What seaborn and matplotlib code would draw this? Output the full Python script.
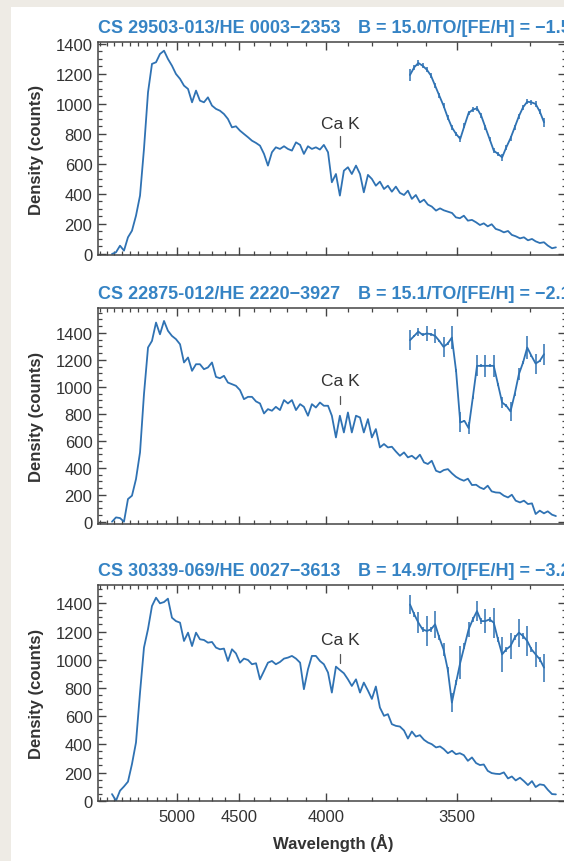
import numpy as np
import pandas as pd
import matplotlib
matplotlib.use("Agg")
import matplotlib.pyplot as plt
from matplotlib.ticker import FixedLocator, MultipleLocator, StrMethodFormatter, NullFormatter
from matplotlib.patches import Rectangle
from matplotlib.transforms import offset_copy
import seaborn as sns

# ---------------------------------------------------------------- data ----
# Objective-prism sampling grid (Angstrom), shared by the three spectra
wavelength = [
    5733, 5679, 5626, 5575, 5525, 5476, 5428, 5381, 5336, 5291,
    5248, 5205, 5164, 5123, 5084, 5045, 5007, 4969, 4933, 4897,
    4862, 4828, 4795, 4762, 4730, 4698, 4667, 4637, 4607, 4578,
    4549, 4521, 4493, 4466, 4439, 4413, 4387, 4362, 4337, 4313,
    4289, 4266, 4242, 4219, 4197, 4175, 4153, 4131, 4111, 4090,
    4070, 4050, 4030, 4011, 3991, 3973, 3954, 3936, 3918, 3900,
    3883, 3865, 3848, 3832, 3815, 3799, 3783, 3767, 3751, 3736,
    3721, 3706, 3691, 3676, 3662, 3648, 3634, 3620, 3606, 3593,
    3580, 3566, 3553, 3541, 3528, 3515, 3503, 3491, 3479, 3467,
    3455, 3443, 3432, 3421, 3410, 3399, 3388, 3377, 3366, 3355,
    3345, 3335, 3324, 3314, 3304, 3294, 3285, 3275, 3265, 3256,
    3246, 3237,
]

density_cs29503 = [
    0, 11, 55, 22, 111, 155, 255, 389, 700, 1078,
    1267, 1278, 1333, 1355, 1300, 1255, 1200, 1167, 1122, 1100,
    1011, 1089, 1022, 1011, 1044, 989, 967, 955, 933, 900,
    844, 851, 822, 800, 778, 755, 740, 722, 667, 589,
    678, 711, 700, 718, 700, 689, 744, 727, 667, 718,
    700, 711, 696, 727, 678, 478, 533, 389, 555, 578,
    533, 589, 533, 411, 527, 500, 455, 482, 433, 455,
    415, 449, 407, 393, 422, 367, 393, 344, 362, 329,
    316, 289, 304, 291, 282, 273, 244, 238, 255, 222,
    227, 211, 193, 204, 184, 198, 167, 158, 144, 153,
    127, 118, 104, 111, 91, 100, 84, 73, 78, 56,
    38, 44,
]

density_cs22875 = [
    0, 32, 27, 0, 168, 193, 316, 514, 946, 1292,
    1341, 1477, 1390, 1489, 1416, 1378, 1354, 1316, 1181, 1218,
    1119, 1168, 1168, 1131, 1144, 1181, 1074, 1064, 1082, 1032,
    1020, 1008, 976, 909, 926, 926, 892, 877, 803, 835,
    823, 852, 828, 902, 877, 902, 828, 872, 852, 786,
    872, 847, 884, 860, 860, 786, 625, 786, 662, 810,
    662, 786, 773, 662, 761, 625, 687, 551, 576, 551,
    556, 521, 489, 514, 477, 489, 465, 497, 440, 428,
    452, 378, 366, 383, 390, 358, 333, 316, 304, 319,
    272, 274, 254, 242, 267, 225, 217, 215, 193, 180,
    200, 156, 143, 156, 131, 136, 57, 82, 62, 77,
    52, 42,
]

density_cs30339 = [
    47, 0, 71, 101, 135, 260, 413, 767, 1086, 1218,
    1381, 1440, 1400, 1409, 1433, 1298, 1274, 1263, 1133, 1192,
    1097, 1192, 1145, 1140, 1121, 1126, 1086, 1074, 1079, 991,
    1074, 1045, 979, 1008, 998, 968, 975, 861, 920, 979,
    991, 968, 984, 1008, 1015, 1027, 1008, 979, 791, 932,
    1027, 1027, 991, 968, 909, 767, 951, 927, 904, 861,
    814, 861, 767, 838, 781, 722, 810, 661, 602, 614,
    543, 531, 526, 498, 441, 491, 455, 465, 432, 413,
    401, 378, 385, 366, 337, 354, 330, 337, 323, 283,
    307, 267, 253, 257, 212, 196, 191, 189, 201, 158,
    172, 144, 163, 139, 111, 139, 97, 116, 111, 78,
    47, 45,
]

# Magnified Ca II H & K region (inset), wavelength in Angstrom
inset_wavelength = [
    3990.0, 3987.5, 3985.0, 3982.5, 3980.0, 3977.5, 3975.0, 3972.5,
    3970.0, 3967.5, 3965.0, 3962.5, 3960.0, 3957.5, 3955.0, 3952.5,
    3950.0, 3947.5, 3945.0, 3942.5, 3940.0, 3937.5, 3935.0, 3932.5,
    3930.0, 3927.5, 3925.0, 3922.5, 3920.0, 3917.5, 3915.0, 3912.5,
    3910.0,
]

inset_cs29503 = [
    1193, 1244, 1273, 1255, 1229, 1189, 1122, 1055, 989, 911, 844,
    800, 767, 855, 940, 962, 971, 922, 844, 767, 689, 667,
    644, 711, 771, 844, 918, 978, 1015, 1011, 1000, 949, 878,
]
inset_err_cs29503 = [
    40, 15, 22, 15, 18, 15, 15, 15, 15, 15, 15,
    15, 22, 15, 15, 15, 18, 15, 15, 15, 15, 15,
    25, 15, 15, 15, 15, 15, 18, 15, 18, 15, 30,
]

inset_cs22875 = [
    1346, 1378, 1410, 1386, 1396, 1391, 1378, 1341, 1297, 1321, 1366,
    1119, 736, 748, 694, 921, 1156, 1156, 1156, 1156, 1156, 1020,
    884, 860, 818, 946, 1094, 1181, 1292, 1230, 1173, 1193, 1242,
]
inset_err_cs22875 = [
    74, 10, 30, 10, 54, 10, 49, 10, 74, 10, 86,
    10, 74, 10, 44, 10, 79, 10, 84, 10, 84, 10,
    44, 10, 69, 10, 44, 10, 86, 10, 74, 10, 79,
]

inset_cs30339 = [
    1392, 1322, 1263, 1215, 1204, 1215, 1251, 1156, 1074, 932, 696,
    838, 979, 1097, 1215, 1286, 1345, 1274, 1274, 1286, 1263, 1145,
    1038, 1074, 1097, 1156, 1192, 1168, 1133, 1074, 1038, 1003, 944,
]
inset_err_cs30339 = [
    66, 19, 76, 19, 106, 19, 94, 19, 47, 19, 66,
    19, 118, 19, 52, 19, 71, 19, 83, 19, 106, 19,
    123, 19, 94, 19, 99, 19, 106, 19, 90, 19, 99,
]

star_names = ["CS 29503-013/HE 0003\u22122353",
              "CS 22875-012/HE 2220\u22123927",
              "CS 30339-069/HE 0027\u22123613"]
star_params = ["B = 15.0/TO/[FE/H] = \u22121.5",
               "B = 15.1/TO/[FE/H] = \u22122.1",
               "B = 14.9/TO/[FE/H] = \u22123.2"]

CA_K = 3933.7
ca_k_label_y = [867, 1050, 1145]
ca_k_mark = [(711, 789), (872, 934), (979, 1038)]

major_wl = [5000, 4500, 4000, 3500]
minor_wl = [w for w in range(3300, 6000, 100) if w not in major_wl]

# ------------------------------------------------------------- styling ----
sns.set_theme(style="ticks")
plt.rcParams["font.family"] = ["Liberation Sans", "DejaVu Sans"]
plt.rcParams["axes.unicode_minus"] = True

LINE = "#2f72b3"
TITLE = "#3583c4"
INK = "#333333"
FRAME = "#444444"

# Hartmann dispersion relation of the objective prism: position ~ 1/(lambda - lambda0)
LAMBDA0 = 1500.0


def prism_forward(lam):
    lam = np.asarray(lam, dtype=float)
    with np.errstate(divide="ignore", invalid="ignore"):
        return -1.0e4 / (lam - LAMBDA0)


def prism_inverse(u):
    u = np.asarray(u, dtype=float)
    with np.errstate(divide="ignore", invalid="ignore"):
        return LAMBDA0 - 1.0e4 / u


W, H = 564, 862
fig = plt.figure(figsize=(W / 100, H / 100), dpi=100)
fig.patch.set_facecolor("#eeebe5")
fig.add_artist(Rectangle((11 / W, 0), 1, 1 - 8 / H, transform=fig.transFigure,
                         facecolor="white", edgecolor="none", zorder=-10))

# axes boxes in pixels: (left, top, right, bottom)
boxes = [(98, 43, 566, 256), (98, 309, 566, 525), (98, 586, 566, 802)]
ylims = [(-7, 1413), (-17, 1585), (-2, 1530)]
spectra = [density_cs29503, density_cs22875, density_cs30339]
insets = [(inset_cs29503, inset_err_cs29503),
          (inset_cs22875, inset_err_cs22875),
          (inset_cs30339, inset_err_cs30339)]

for i, (l, t, r, b) in enumerate(boxes):
    ax = fig.add_axes([l / W, 1 - b / H, (r - l) / W, (b - t) / H])
    ax.set_xscale("function", functions=(prism_forward, prism_inverse))

    df = pd.DataFrame({"wavelength": wavelength, "density": spectra[i]})
    sns.lineplot(data=df, x="wavelength", y="density", ax=ax, color=LINE,
                 lw=1.3, sort=False, estimator=None)

    ax.set_xlim(5934, 3214)
    ax.set_ylim(*ylims[i])

    ax.xaxis.set_major_locator(FixedLocator(major_wl))
    ax.xaxis.set_minor_locator(FixedLocator(minor_wl))
    ax.xaxis.set_major_formatter(StrMethodFormatter("{x:.0f}"))
    ax.xaxis.set_minor_formatter(NullFormatter())
    ax.yaxis.set_major_locator(MultipleLocator(200))
    ax.yaxis.set_minor_locator(MultipleLocator(50))
    ax.yaxis.set_minor_formatter(NullFormatter())
    ax.tick_params(which="both", direction="in", top=True, right=True,
                   color=FRAME, labelcolor=INK, labelsize=12)
    ax.tick_params(which="major", length=6, width=1.0)
    ax.tick_params(which="minor", length=3, width=0.9)
    ax.tick_params(axis="y", pad=4)
    ax.tick_params(axis="x", pad=6)
    for sp in ax.spines.values():
        sp.set_color(FRAME)
        sp.set_linewidth(1.1)

    ax.set_ylabel("Density (counts)", fontsize=12, fontweight="bold",
                  color=INK, va="center")
    ax.yaxis.set_label_coords((37 - l) / (r - l), 0.5)

    if i < 2:
        ax.tick_params(labelbottom=False)
        ax.set_xlabel("")
    else:
        ax.set_xlabel("Wavelength (\u00c5)", fontsize=12, fontweight="bold",
                      color=INK, va="center")
        ax.xaxis.set_label_coords((333 - l) / (r - l), -(843 - b) / (b - t))

    # titles above each panel
    ttrans = offset_copy(ax.transAxes, fig=fig, x=0, y=10, units="dots")
    ax.text(0, 1, star_names[i], transform=ttrans, ha="left", va="baseline",
            fontsize=13, fontweight="bold", color=TITLE)
    ax.text((358 - l) / (r - l), 1, star_params[i], transform=ttrans,
            ha="left", va="baseline", fontsize=13, fontweight="bold",
            color=TITLE, clip_on=False)

    # Ca K marker
    lo, hi = ca_k_mark[i]
    ax.plot([CA_K, CA_K], [lo, hi], color="#555555", lw=0.9)
    ax.text(CA_K, ca_k_label_y[i], "Ca K", ha="center", va="center",
            fontsize=12.5, color=INK)

    # magnified Ca H & K window with error bars
    vals, errs = insets[i]
    ins = ax.inset_axes([(410 - l) / (r - l), 0, (544 - 410) / (r - l), 1])
    ins.patch.set_alpha(0)
    idf = pd.DataFrame({"wavelength": inset_wavelength, "density": vals})
    sns.lineplot(data=idf, x="wavelength", y="density", ax=ins, color=LINE,
                 lw=1.3, sort=False, estimator=None)
    ins.errorbar(inset_wavelength, vals, yerr=errs, fmt="none", ecolor=LINE,
                 elinewidth=1.1, capsize=0)
    ins.set_xlim(3990, 3910)
    ins.set_ylim(*ylims[i])
    ins.set_xticks([])
    ins.set_yticks([])
    ins.set_xlabel("")
    ins.set_ylabel("")
    ins.axis("off")
    for art in ins.lines + ins.collections:
        art.set_clip_on(False)

fig.savefig("out.png", dpi=100, facecolor=fig.get_facecolor())
